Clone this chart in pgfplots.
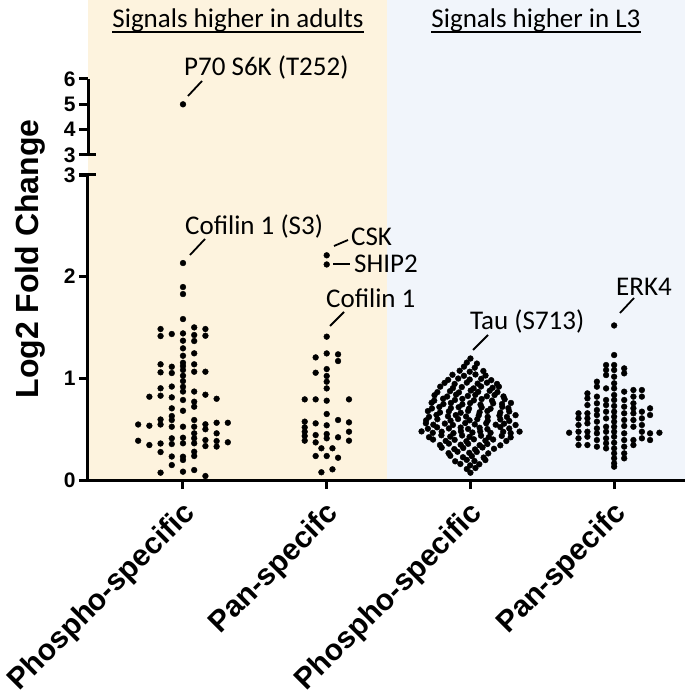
\documentclass[border=0pt]{standalone}
\usepackage{pgfplots}
\pgfplotsset{compat=1.18}
\usepackage{fontspec}
\setmainfont{Carlito}
\newfontfamily\arial{Liberation Sans}
\definecolor{beige}{RGB}{253,243,222}
\definecolor{bluebg}{RGB}{241,245,251}
\pgfplotsset{dots/.style={only marks, mark=*, mark size=2.9pt, black, mark options={draw=black, fill=black}}}
\begin{document}
\begin{tikzpicture}[x=1pt,y=1pt]
\fill[beige] (88,217) rectangle (387,697);
\fill[bluebg] (387,217) rectangle (685,697);
% bottom segment
\begin{axis}[at={(88pt,217pt)}, anchor=south west, scale only axis,
  width=597pt, height=305pt, xmin=-0.661, xmax=3.493, ymin=0, ymax=3,
  axis x line*=bottom, axis y line*=left, clip=false,
  axis line style={line width=3pt, black, -},
  tick style={line width=3pt, black}, major tick length=9pt, tick align=outside,
  xtick={0,1,2,3}, xticklabels={Phospho-specific,Pan-specifc,Phospho-specific,Pan-specifc},
  ytick={0,1,2,3},
  /pgf/number format/assume math mode=true,
  yticklabel style={font=\arial\bfseries\fontsize{21}{21}\selectfont},
  xticklabel style={font=\arial\bfseries\fontsize{30}{30}\selectfont, xshift=10pt, yshift=-18pt, rotate=45, anchor=east},
]
% Phospho adults
\addplot[dots] coordinates {
(0,2.134)(0,1.898)(0,1.829)(0,1.583)(0,1.442)(0,1.370)(0,1.295)(0,1.222)(0,1.153)(0,1.121)(0,1.082)(0,1.026)(0,0.973)(0,0.917)(0,0.870)(0,0.787)(0,0.681)(0,0.524)(0,0.416)(0,0.361)(0,0.229)(0,0.197)(0,0.082)
(0.078,1.501)(0.078,1.426)(0.078,1.367)(0.078,1.246)(0.078,1.138)(0.078,1.065)(0.078,0.870)(0.078,0.770)(0.078,0.721)(0.078,0.590)(0.078,0.524)(0.078,0.459)(0.078,0.410)(0.078,0.361)(0.078,0.278)(0.078,0.236)(0.078,0.098)
(-0.078,1.436)(-0.078,1.114)(-0.078,1.052)(-0.078,0.919)(-0.078,0.813)(-0.078,0.705)(-0.078,0.629)(-0.078,0.590)(-0.078,0.524)(-0.078,0.410)(-0.078,0.354)(-0.078,0.231)(-0.078,0.147)
(-0.156,1.485)(-0.156,1.416)(-0.156,1.138)(-0.156,1.059)(-0.156,0.902)(-0.156,0.829)(-0.156,0.595)(-0.156,0.546)(-0.156,0.359)(-0.156,0.275)(-0.156,0.072)
(0.156,1.485)(0.156,1.419)(0.156,1.065)(0.156,0.839)(0.156,0.548)(0.156,0.499)(0.156,0.393)(0.156,0.334)(0.156,0.039)
(0.234,0.799)(0.234,0.563)(0.234,0.459)(0.234,0.383)(0.234,0.329)
(0.312,0.563)(0.312,0.371)
(-0.234,0.819)(-0.234,0.534)(-0.234,0.344)
(-0.312,0.546)(-0.312,0.386)
};
% Pan adults
\addplot[dots] coordinates {
(1,2.21)(1,2.12)(1,1.41)
(0.923,1.206)(1,1.245)(1.079,1.236)(1.079,1.170)
(0.923,1.055)(1,1.091)(1,1.023)(1,0.967)(1,0.901)
(0.847,0.793)(0.923,0.793)(1,0.780)(1.155,0.793)
(1,0.649)
(0.847,0.574)(0.923,0.557)(1,0.538)(1.079,0.590)(1.155,0.567)
(0.847,0.518)(0.847,0.475)(0.847,0.433)(0.847,0.387)
(0.923,0.442)(0.923,0.370)(1,0.452)(1,0.410)(1.079,0.420)(1.155,0.475)(1.155,0.387)
(0.963,0.312)(1.040,0.312)
(0.923,0.236)(1,0.236)(1.079,0.219)
(0.963,0.076)(1.040,0.105)
};
% Phospho L3
\addplot[dots] coordinates {
(2.00,1.195)
(1.975,1.155)(2.045,1.145)
(1.955,1.115)(2.03,1.105)
(1.925,1.075)(1.995,1.065)(2.09,1.072)
(1.875,1.035)(1.955,1.025)(2.035,1.038)(2.105,1.028)
(1.845,0.985)(1.915,0.998)(1.995,0.988)(2.075,0.995)(2.145,0.982)
(1.82,0.955)(1.89,0.945)(1.975,0.958)(2.05,0.948)(2.115,0.957)(2.185,0.945)
(1.79,0.918)(1.878,0.904)(1.94,0.914)(2.022,0.901)(2.074,0.92)(2.154,0.907)(2.198,0.918)
(1.77,0.864)(1.858,0.874)(1.92,0.861)(2.002,0.88)(2.054,0.867)(2.134,0.878)(2.188,0.864)
(1.75,0.834)(1.838,0.821)(1.90,0.84)(1.982,0.827)(2.034,0.838)(2.114,0.824)(2.168,0.836)(2.23,0.822)
(1.748,0.781)(1.81,0.8)(1.892,0.787)(1.944,0.798)(2.024,0.784)(2.078,0.796)(2.15,0.781)(2.238,0.794)
(1.73,0.76)(1.812,0.747)(1.864,0.758)(1.944,0.744)(1.998,0.756)(2.07,0.741)(2.158,0.754)(2.22,0.747)(2.282,0.758)
(1.732,0.704)(1.784,0.718)(1.864,0.707)(1.918,0.716)(1.99,0.702)(2.078,0.714)(2.14,0.701)(2.222,0.72)(2.264,0.707)
(1.704,0.678)(1.788,0.664)(1.85,0.675)(1.932,0.661)(1.984,0.68)(2.064,0.667)(2.118,0.678)(2.208,0.664)(2.27,0.674)
(1.712,0.621)(1.764,0.64)(1.844,0.627)(1.898,0.638)(1.97,0.624)(2.058,0.636)(2.12,0.621)(2.202,0.634)(2.254,0.62)(2.314,0.638)
(1.692,0.587)(1.77,0.598)(1.862,0.584)(1.914,0.6)(1.994,0.587)(2.048,0.598)(2.12,0.584)(2.208,0.596)(2.27,0.581)
(1.69,0.558)(1.742,0.544)(1.822,0.555)(1.878,0.541)(1.964,0.56)(2.03,0.547)(2.11,0.558)(2.176,0.544)(2.234,0.554)(2.314,0.541)
(1.704,0.504)(1.768,0.518)(1.85,0.507)(1.932,0.516)(1.984,0.502)(2.064,0.514)(2.118,0.501)(2.208,0.52)(2.27,0.507)
(1.66,0.478)(1.738,0.464)(1.80,0.475)(1.882,0.461)(1.934,0.48)(2.014,0.467)(2.068,0.478)(2.14,0.464)(2.228,0.474)(2.28,0.461)(2.342,0.476)
(1.712,0.421)(1.798,0.44)(1.86,0.427)(1.942,0.438)(1.994,0.424)(2.074,0.436)(2.128,0.421)(2.218,0.434)(2.28,0.42)
(1.74,0.398)(1.828,0.384)(1.89,0.395)(1.972,0.381)(2.024,0.40)(2.104,0.387)(2.158,0.398)(2.25,0.384)
(1.788,0.344)(1.85,0.358)(1.932,0.347)(1.984,0.356)(2.064,0.342)(2.118,0.354)(2.208,0.341)
(1.80,0.318)(1.888,0.304)(1.95,0.315)(2.032,0.301)(2.084,0.32)(2.164,0.307)
(1.848,0.264)(1.91,0.278)(1.992,0.267)(2.044,0.276)(2.124,0.262)
(1.86,0.238)(1.948,0.224)(2.01,0.235)(2.092,0.221)
(1.894,0.184)(1.974,0.198)(2.028,0.187)(2.104,0.196)
(1.93,0.158)(1.998,0.144)(2.062,0.155)
(1.975,0.108)(2.035,0.118)
(2.0,0.072)
};
% Pan L3
\addplot[dots] coordinates {
(3,1.52)
(3,1.229)(3,1.131)(3,1.082)(3,1.016)(3,0.951)(3,0.901)(3,0.836)(3,0.787)(3,0.728)(3,0.672)(3,0.623)(3,0.574)(3,0.524)(3,0.475)(3,0.426)(3,0.367)(3,0.311)(3,0.262)(3,0.213)(3,0.164)(3,0.131)
(2.944,1.131)(2.944,1.082)(2.944,1.032)(2.944,0.901)(2.944,0.787)(2.944,0.737)(2.944,0.672)(2.944,0.606)(2.944,0.524)(2.944,0.475)(2.944,0.410)(2.944,0.361)(2.944,0.311)
(3.07,1.098)(3.07,1.049)(3.07,0.869)(3.07,0.787)(3.07,0.721)(3.07,0.656)(3.07,0.590)(3.07,0.531)(3.07,0.459)(3.07,0.393)(3.07,0.328)(3.07,0.262)(3.07,0.213)
(2.88,0.967)(2.88,0.918)(2.88,0.820)(2.88,0.754)(2.88,0.688)(2.88,0.639)(2.88,0.574)(2.88,0.508)(2.88,0.459)(2.88,0.393)(2.88,0.328)
(3.134,0.885)(3.134,0.820)(3.134,0.754)(3.134,0.705)(3.134,0.656)(3.134,0.590)(3.134,0.524)(3.134,0.393)(3.134,0.344)
(2.814,0.852)(2.814,0.803)(2.814,0.737)(2.814,0.656)(2.814,0.606)(2.814,0.557)(2.814,0.475)(2.814,0.426)(2.814,0.344)
(3.193,0.885)(3.193,0.820)(3.193,0.672)(3.193,0.606)(3.193,0.541)(3.193,0.475)(3.193,0.410)
(2.752,0.656)(2.752,0.606)(2.752,0.541)(2.752,0.475)(2.752,0.410)(2.752,0.344)
(3.25,0.705)(3.25,0.639)(3.25,0.459)(3.25,0.393)
(2.687,0.465)(3.315,0.465)
};
\end{axis}
% top segment
\begin{axis}[at={(88pt,542pt)}, anchor=south west, scale only axis,
  width=597pt, height=76pt, xmin=-0.661, xmax=3.493, ymin=3, ymax=6,
  axis x line=none, axis y line*=left, clip=false,
  axis line style={line width=3pt, black, -},
  tick style={line width=3pt, black}, major tick length=9pt, tick align=outside,
  xtick=\empty, ytick={3,4,5,6},
  /pgf/number format/assume math mode=true,
  yticklabel style={font=\arial\bfseries\fontsize{21}{21}\selectfont},
]
\addplot[dots] coordinates {(0,5.0)};
\end{axis}
% break caps
\draw[line width=3pt] (79,542) -- (96,542);
\draw[line width=3pt] (79,522) -- (96,522);
% y label
\node[rotate=90, font=\arial\bfseries\fontsize{32}{32}\selectfont] at (30,438) {Log2 Fold Change};
% titles
\begin{scope}[every node/.style={inner sep=0pt, font=\fontsize{27}{27}\selectfont}]
\node[anchor=base] (t1) at (238,669) {Signals higher in adults};
\node[anchor=base] (t2) at (536,669) {Signals higher in L3};
\end{scope}
\draw[line width=1.6pt] ([yshift=-4pt]t1.base west) -- ([yshift=-4pt]t1.base east);
\draw[line width=1.6pt] ([yshift=-4pt]t2.base west) -- ([yshift=-4pt]t2.base east);
% annotations
\begin{scope}[every node/.style={inner sep=0pt, anchor=west, font=\fontsize{27}{27}\selectfont}]
\node at (184,629) {P70 S6K (T252)};
\node at (185,470) {Cofilin 1 (S3)};
\node at (351,460) {CSK};
\node at (354,433) {SHIP2};
\node at (326,399) {Cofilin 1};
\node at (470,375) {Tau (S713)};
\node at (616,410) {ERK4};
\end{scope}
\begin{scope}[line width=1.8pt]
\draw (188,601) -- (202,616);
\draw (190,442) -- (205,458);
\draw (334,451) -- (348,457);
\draw (333,433) -- (350,433);
\draw (330,371) -- (344,385);
\draw (473,347) -- (488,362);
\draw (620,384) -- (634,399);
\end{scope}
\pgfresetboundingbox
\useasboundingbox (0,0) rectangle (685,697);
\end{tikzpicture}
\end{document}
